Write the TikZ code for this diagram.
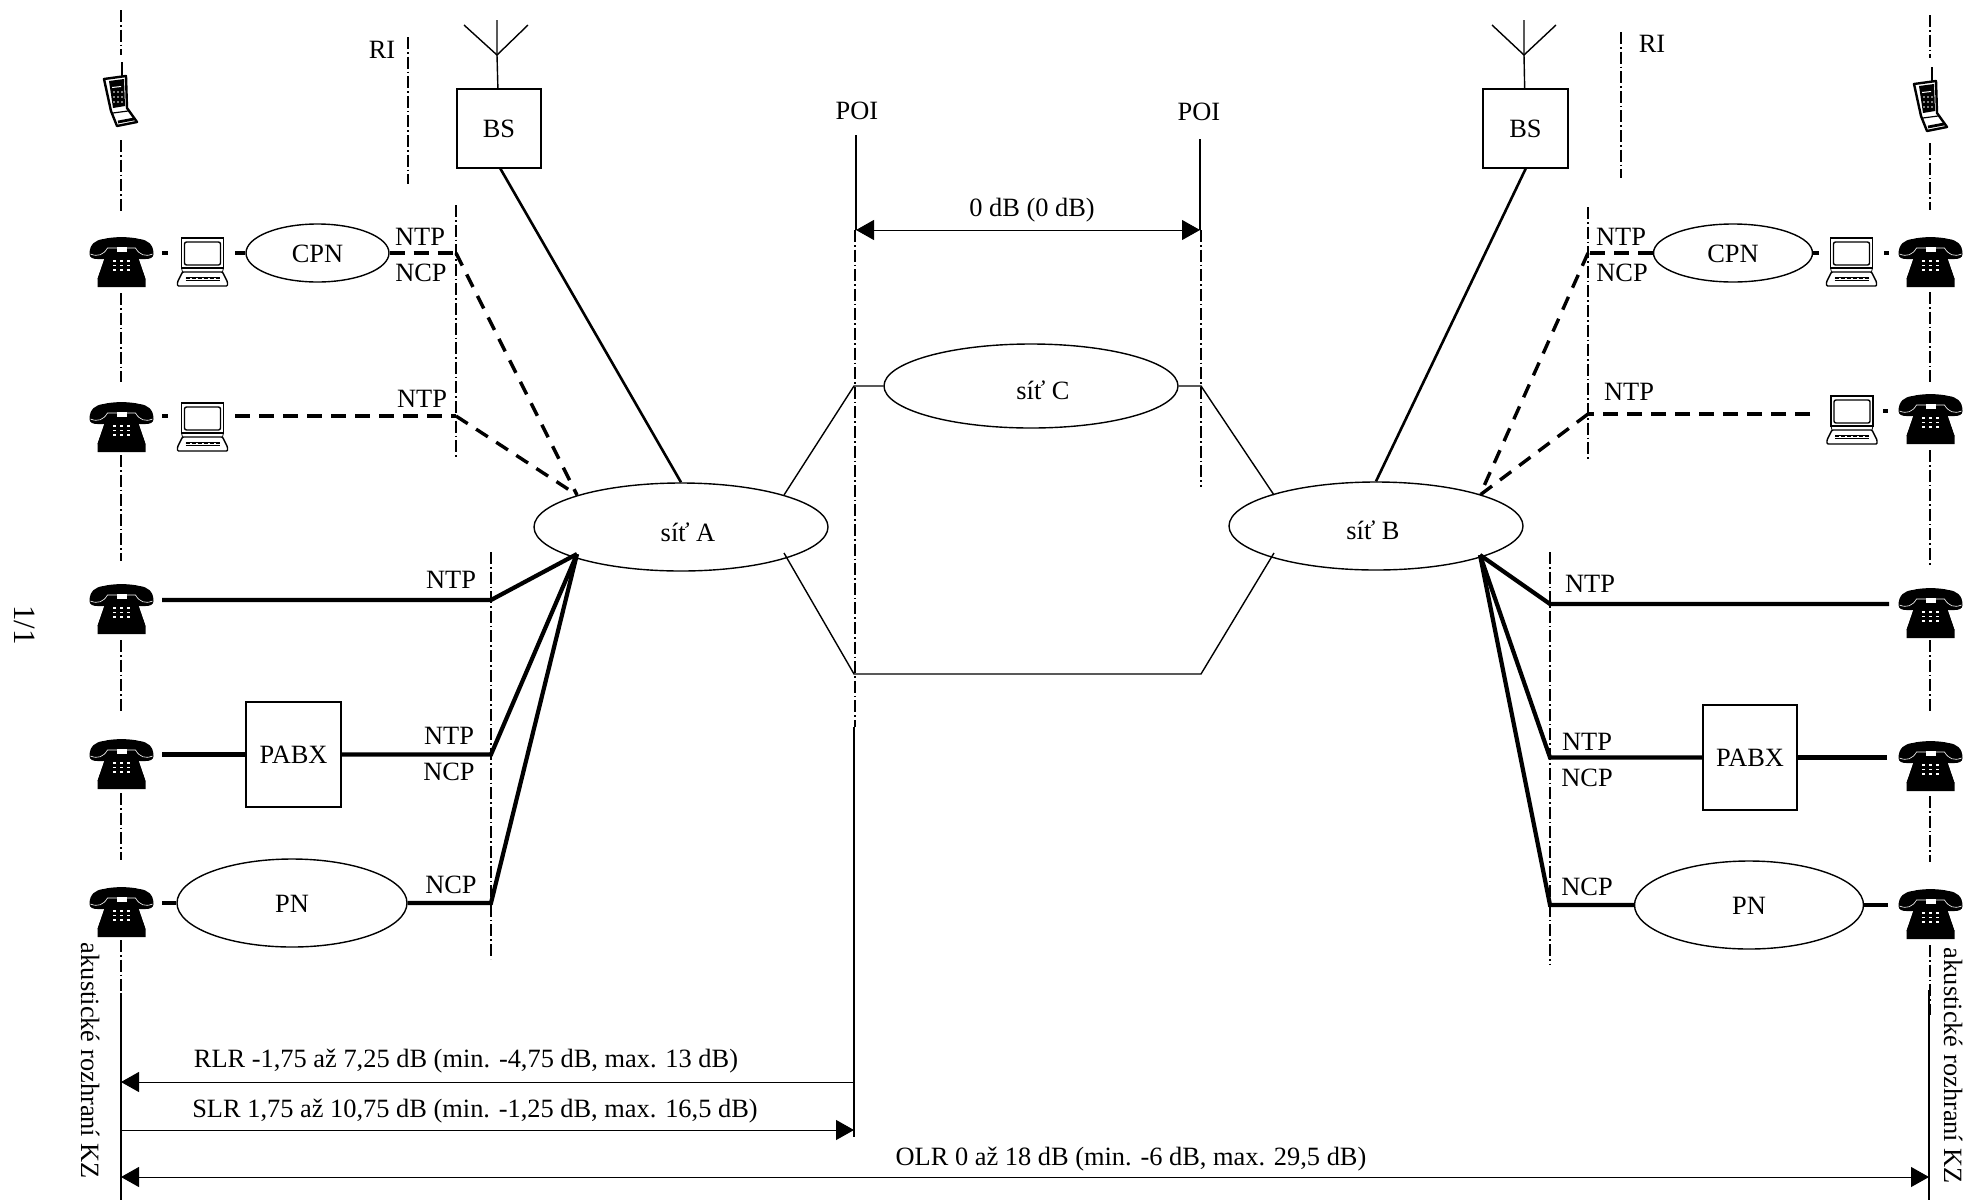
\documentclass[tikz,border=0pt]{standalone}
\usepackage{fontspec}
\setmainfont{Liberation Serif}
\usetikzlibrary{arrows.meta,shapes.geometric}
\tikzset{
    txt/.style={font=\fontsize{13.2}{15}\selectfont, inner sep=0pt, text height=9pt, text depth=0pt},
    net/.style={draw, line width=0.7pt, ellipse, inner sep=0pt, txt},
    unit/.style={draw, line width=0.7pt, rectangle, inner sep=0pt, txt},
    refline/.style={line width=0.6pt, dash pattern=on 6pt off 1.5pt on 0.8pt off 1.5pt},
    wire/.style={line width=2.1pt},
    dwire/.style={line width=2.1pt, dash pattern=on 7.5pt off 4.5pt},
    slant/.style={line width=1.7pt, dash pattern=on 7pt off 5pt},
    link/.style={line width=0.7pt},
    measure/.style={line width=0.5pt},
    deskphone/.pic={
        \fill (-32,1) .. controls (-32,-9) and (-26,-13) .. (-18,-14) .. controls (-8,-16.5) and (8,-16.5) .. (18,-14)
            .. controls (26,-13) and (32,-9) .. (32,1) .. controls (32,5) and (28,6) .. (24,6) -- (18,6)
            .. controls (15,6) and (14,3) .. (14,-3) -- (24,26) -- (24,34) -- (-24,34) -- (-24,26) -- (-14,-3)
            .. controls (-14,3) and (-15,6) .. (-18,6) -- (-24,6) .. controls (-28,6) and (-32,5) .. (-32,1) -- cycle;
        \fill (-14,-3) -- (14,-3) -- (24,26) -- (-24,26) -- cycle;
        \draw[white, line width=0.3pt] (-31,1) .. controls (-24,4) and (-18,2) .. (-14,-5) -- (14,-5) .. controls (18,2) and (24,4) .. (31,1);
        \fill[white] (-5,-6) rectangle (5,-1);
        \foreach \col in {-7,0,7} \foreach \row in {8,12.5,17}
            \fill[white] (\col-1.5,\row-0.8) rectangle (\col+1.5,\row+0.8);
    },
    laptop/.pic={
        \draw[line width=0.6pt] (-21,-15) rectangle (21,15);
        \draw[line width=0.7pt, rounded corners=1pt] (-18,-11) rectangle (18,12);
        \draw[line width=0.7pt, fill=white, rounded corners=0.5pt] (-20,19) -- (20,19) -- (25,29) -- (25,33) -- (-25,33) -- (-25,29) -- cycle;
        \draw (-21,15) -- (-20,19) (21,15) -- (20,19);
        \draw[line width=0.4pt] (-17,24) -- (17,24) (-17,27) -- (17,27);
        \draw[line width=0.9pt, dash pattern=on 2pt off 1pt] (-17,25.5) -- (17,25.5);
    },
    handset/.pic={
        \draw[line width=1pt] (1,-33) -- (1,-18);
        \draw[line width=1.2pt, fill=white, line join=round] (-17,-16) -- (5,-19) -- (6,13) -- (16,27) -- (-4,31) -- (-10,16) -- cycle;
        \fill (-12,-14) -- (3,-16) -- (4,11) -- (-8,13) -- cycle;
        \fill[white] (-9,-8) -- (0,-9) -- (0,-8) -- (-9,-7) -- cycle;
        \foreach \col in {-7,-3,1} \foreach \row in {-3,2,7}
            \fill[gray] (\col-0.6,\row-0.6) rectangle (\col+0.6,\row+0.6);
        \draw[line width=0.6pt] (-8,18) -- (7,16);
        \draw[line width=1.4pt] (-3,27) -- (13,24);
    },
}
\begin{document}
\begin{tikzpicture}[x=0.5pt, y=-0.5pt]
    \useasboundingbox (0,0) rectangle (1966,1200);

    % reference lines
    \foreach \xa/\ya/\yb in {121/10/55, 121/140/213, 121/293/382, 121/455/561, 121/640/713, 121/793/860, 121/940/1013,
        1930/15/58, 1930/143/210, 1930/292/382, 1930/450/565, 1930/640/713, 1930/796/862, 1930/945/1015,
        408/37/184, 1621/32/178, 456/205/458, 1588/207/460, 491/552/959, 1550/552/965,
        855/230/727, 1201/230/487}
        \draw[refline] (\xa,\ya) -- (\xa,\yb);

    % terminals
    \foreach \yy in {253,418,600,755,903} \pic at (121.5,\yy) {deskphone};
    \foreach \yy in {253,410,604,757,905} \pic at (1930.5,\yy) {deskphone};
    \pic at (202.5,253) {laptop};
    \pic at (202.5,418) {laptop};
    \pic at (1851.5,253) {laptop};
    \pic at (1852,411) {laptop};
    \pic at (121,95) {handset};
    \pic at (1931,100) {handset};

    % networks
    \node[net, minimum width=147pt, minimum height=88*0.5pt] (sitA) at (681,527) {};
    \node[net, minimum width=147pt, minimum height=88*0.5pt] (sitB) at (1376,526) {};
    \node[net, minimum width=147pt, minimum height=84*0.5pt] (sitC) at (1031,386) {};
    \node[txt] (sitAtxt) at (688,532) {síť A};
    \node[txt] (sitBtxt) at (1373,530) {síť B};
    \node[txt] (sitCtxt) at (1043,390) {síť C};
    \node[net, minimum width=71.5pt, minimum height=29pt] (cpnL) at (317.5,253) {CPN};
    \node[net, minimum width=79.5pt, minimum height=29pt] (cpnR) at (1733,253) {CPN};
    \node[net, minimum width=115pt, minimum height=44pt] (pnL) at (292,903) {PN};
    \node[net, minimum width=114.5pt, minimum height=44pt] (pnR) at (1749,905) {PN};
    \node[unit, minimum width=47.5pt, minimum height=52.5pt] (pabxL) at (293.5,754.5) {PABX};
    \node[unit, minimum width=47pt, minimum height=52.5pt] (pabxR) at (1750,757.5) {PABX};
    \node[unit, minimum width=42pt, minimum height=39.5pt] (bsL) at (499,128.5) {BS};
    \node[unit, minimum width=42.5pt, minimum height=39.5pt] (bsR) at (1525.5,128.5) {BS};

    % points
    \coordinate (antL) at (497,55);
    \coordinate (antLtop) at (497,20);
    \coordinate (antLa) at (464,25);
    \coordinate (antLb) at (528,25);
    \coordinate (antR) at (1524,55);
    \coordinate (antRtop) at (1524,20);
    \coordinate (antRa) at (1492,25);
    \coordinate (antRb) at (1556,25);
    \coordinate (inA) at (577,495);
    \coordinate (fanA) at (577,554);
    \coordinate (inB) at (1480,495);
    \coordinate (fanB) at (1480,555);
    \coordinate (jL1) at (456,253);
    \coordinate (jL2) at (456,416);
    \coordinate (jL3) at (491,600);
    \coordinate (jL4) at (491,754.5);
    \coordinate (jL5) at (491,903);
    \coordinate (jR1) at (1588,253);
    \coordinate (jR2) at (1588,414);
    \coordinate (jR3) at (1550,604);
    \coordinate (jR4) at (1550,757.5);
    \coordinate (jR5) at (1550,905);
    \coordinate (telL1) at (162,253);
    \coordinate (telL1b) at (168,253);
    \coordinate (telL2) at (162,416);
    \coordinate (telL2b) at (168,416);
    \coordinate (lapL1) at (235,253);
    \coordinate (lapL2) at (235,416);
    \coordinate (telL3) at (162,600);
    \coordinate (telL4) at (162,754.5);
    \coordinate (telL5) at (162,903);
    \coordinate (telR1) at (1884,253);
    \coordinate (telR1b) at (1889,253);
    \coordinate (telR2) at (1883,411);
    \coordinate (telR2b) at (1888,411);
    \coordinate (lapR1) at (1819,253);
    \coordinate (lapR2) at (1810,414);
    \coordinate (telR3) at (1889,604);
    \coordinate (telR4) at (1887,757.5);
    \coordinate (telR5) at (1888,905);
    \coordinate (poiLa) at (856,135);
    \coordinate (poiLb) at (856,230);
    \coordinate (poiRa) at (1200,139);
    \coordinate (poiRb) at (1200,230);
    \coordinate (poiLc) at (854,727);
    \coordinate (poiLd) at (854,1137);
    \coordinate (midLa) at (854,386);
    \coordinate (midRa) at (1201,386);
    \coordinate (midLb) at (854,674);
    \coordinate (midRb) at (1201,674);
    \coordinate (aUp) at (784,495);
    \coordinate (aDn) at (784,553);
    \coordinate (bUp) at (1274,495);
    \coordinate (bDn) at (1274,553);
    \coordinate (acuLa) at (121,993);
    \coordinate (acuLb) at (121,1200);
    \coordinate (acuRa) at (1929,990);
    \coordinate (acuRb) at (1929,1200);
    \coordinate (rlrA) at (854,1082);
    \coordinate (rlrB) at (121,1082);
    \coordinate (slrA) at (121,1130);
    \coordinate (slrB) at (854,1130);
    \coordinate (olrA) at (121,1177);
    \coordinate (olrB) at (1929,1177);
    \coordinate (bsLout) at (500,168);
    \coordinate (bsRout) at (1526,168);

    % antennas
    \draw[link] (bsL) -- (antL) -- (antLtop);
    \draw[link] (antLa) -- (antL) -- (antLb);
    \draw[link] (bsR) -- (antR) -- (antRtop);
    \draw[link] (antRa) -- (antR) -- (antRb);
    \draw[line width=1.3pt] (bsLout) -- (sitA.north);
    \draw[line width=1.3pt] (bsRout) -- (sitB.north);

    % left side
    \draw[wire] (telL1) -- (telL1b);
    \draw[wire] (lapL1) -- (cpnL);
    \draw[dwire] (cpnL) -- (jL1);
    \draw[slant] (jL1) -- (inA);
    \draw[wire] (telL2) -- (telL2b);
    \draw[dwire] (lapL2) -- (jL2);
    \draw[slant] (jL2) -- (inA);
    \draw[wire] (telL3) -- (jL3) -- (fanA);
    \draw[wire] (telL4) -- (pabxL);
    \draw[wire] (pabxL) -- (jL4) -- (fanA);
    \draw[wire] (telL5) -- (pnL);
    \draw[wire] (pnL) -- (jL5) -- (fanA);

    % right side
    \draw[wire] (telR1) -- (telR1b);
    \draw[wire] (lapR1) -- (cpnR);
    \draw[dwire] (cpnR) -- (jR1);
    \draw[slant] (jR1) -- (inB);
    \draw[wire] (telR2) -- (telR2b);
    \draw[dwire] (lapR2) -- (jR2);
    \draw[slant] (jR2) -- (inB);
    \draw[wire] (telR3) -- (jR3) -- (fanB);
    \draw[wire] (telR4) -- (pabxR);
    \draw[wire] (pabxR) -- (jR4) -- (fanB);
    \draw[wire] (telR5) -- (pnR);
    \draw[wire] (pnR) -- (jR5) -- (fanB);

    % middle
    \draw[link] (aUp) -- (midLa) -- (sitC);
    \draw[link] (sitC) -- (midRa) -- (bUp);
    \draw[link] (aDn) -- (midLb) -- (midRb) -- (bDn);
    \draw[link] (poiLa) -- (poiLb);
    \draw[link] (poiRa) -- (poiRb);
    \draw[link] (poiLc) -- (poiLd);
    \draw[measure, {Triangle[length=9pt,width=10pt]}-{Triangle[length=9pt,width=10pt]}] (poiLb) -- (poiRb);

    % levels
    \draw[link] (acuLa) -- (acuLb);
    \draw[link] (acuRa) -- (acuRb);
    \draw[measure, -{Triangle[length=9pt,width=10pt]}] (rlrA) -- (rlrB);
    \draw[measure, -{Triangle[length=9pt,width=10pt]}] (slrA) -- (slrB);
    \draw[measure, {Triangle[length=9pt,width=10pt]}-{Triangle[length=9pt,width=10pt]}] (olrA) -- (olrB);

    % labels
    \node[txt] (riL) at (382,49) {RI};
    \node[txt] (riR) at (1652,43) {RI};
    \node[txt] (poiL) at (857,110) {POI};
    \node[txt] (poiR) at (1199,111) {POI};
    \node[txt] (gain) at (1032,207) {0 dB (0 dB)};
    \node[txt] (ntpL1) at (420,236) {NTP};
    \node[txt] (ncpL1) at (421,272) {NCP};
    \node[txt] (ntpL2) at (422,398) {NTP};
    \node[txt] (ntpL3) at (451,579) {NTP};
    \node[txt] (ntpL4) at (449,735) {NTP};
    \node[txt] (ncpL4) at (449,771) {NCP};
    \node[txt] (ncpL5) at (451,884) {NCP};
    \node[txt] (ntpR1) at (1621,236) {NTP};
    \node[txt] (ncpR1) at (1622,272) {NCP};
    \node[txt] (ntpR2) at (1629,391) {NTP};
    \node[txt] (ntpR3) at (1590,583) {NTP};
    \node[txt] (ntpR4) at (1587,741) {NTP};
    \node[txt] (ncpR4) at (1587,777) {NCP};
    \node[txt] (ncpR5) at (1587,886) {NCP};
    \node[txt] (rlr) at (466,1058) {RLR -1,75 až 7,25 dB (min. -4,75 dB, max. 13 dB)};
    \node[txt] (slr) at (475,1108) {SLR 1,75 až 10,75 dB (min. -1,25 dB, max. 16,5 dB)};
    \node[txt] (olr) at (1131,1156) {OLR 0 až 18 dB (min. -6 dB, max. 29,5 dB)};
    \node[txt, rotate=-90] (acuL) at (90,1061) {akustické rozhraní KZ};
    \node[txt, rotate=-90] (acuR) at (1953,1066) {akustické rozhraní KZ};
    \node[txt, rotate=-90, font=\fontsize{15.5}{17}\selectfont, text height=10pt] (page) at (24,625) {1/1};
\end{tikzpicture}
\end{document}
